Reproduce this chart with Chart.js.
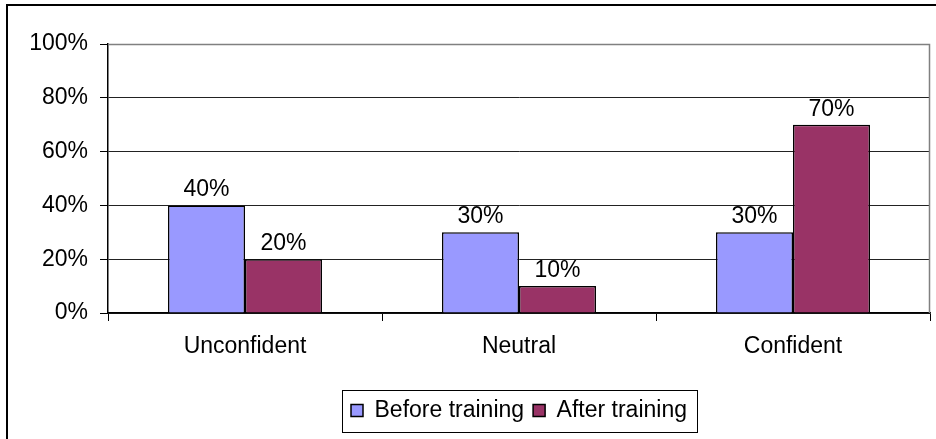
<!DOCTYPE html>
<html>
<head>
<meta charset="utf-8">
<script src="https://cdn.jsdelivr.net/npm/chart.js@4.4.1/dist/chart.umd.min.js"></script>
<style>
  html, body { margin: 0; padding: 0; background: #fff; }
  #wrap { position: relative; width: 936px; height: 439px; overflow: hidden; }
  #frame {
    position: absolute; left: 6px; top: 4px; width: 960px; height: 460px;
    border-left: 2px solid #000; border-top: 2px solid #000;
  }
  canvas { position: absolute; left: 0; top: 0; }
</style>
</head>
<body>
<div id="wrap">
  <div id="frame"></div>
  <canvas id="chart" width="936" height="439"></canvas>
</div>
<script>
// Chart data
const categories = ["Unconfident", "Neutral", "Confident"];
const beforeTraining = [40, 30, 30];
const afterTraining = [20, 10, 70];
const yTicks = [0, 20, 40, 60, 80, 100];

const FONT = { family: "'Liberation Sans', Arial, sans-serif", size: 23 };
const LEGEND_CENTER = 519; // legend sits a bit right of the canvas middle

// draws the percent labels on top of bars
const valueLabels = {
  id: "valueLabels",
  afterDatasetsDraw(chart) {
    const ctx = chart.ctx;
    ctx.save();
    ctx.font = FONT.size + "px " + FONT.family;
    ctx.fillStyle = "#000";
    ctx.textAlign = "center";
    ctx.textBaseline = "alphabetic";
    chart.data.datasets.forEach((ds, i) => {
      chart.getDatasetMeta(i).data.forEach((bar, j) => {
        ctx.fillText(ds.data[j] + "%", bar.x, bar.y - 9);
      });
    });
    ctx.restore();
  },
};

// gray plot area border + box around legend
const frames = {
  id: "frames",
  afterLayout(chart) {
    // move the legend sideways; hit boxes get rebuilt afterwards by the legend plugin
    const lg = chart.legend;
    const dx = Math.round(LEGEND_CENTER - (lg.left + lg.right) / 2);
    lg.left += dx;
    lg.right += dx;
  },
  beforeDatasetsDraw(chart) {
    const a = chart.chartArea;
    const ctx = chart.ctx;
    ctx.save();
    ctx.strokeStyle = "#808080";
    ctx.lineWidth = 1.5;
    ctx.beginPath();
    ctx.moveTo(a.left, a.top + 0.5);
    ctx.lineTo(a.right - 0.5, a.top + 0.5);
    ctx.lineTo(a.right - 0.5, a.bottom);
    ctx.stroke();
    ctx.restore();
  },
  afterDraw(chart) {
    const lg = chart.legend;
    const boxes = lg.legendHitBoxes;
    if (!boxes || !boxes.length) return;
    const first = boxes[0];
    const last = boxes[boxes.length - 1];
    const ctx = chart.ctx;
    ctx.save();
    ctx.strokeStyle = "#000";
    ctx.lineWidth = 1;
    const x1 = first.left - 9;
    const x2 = last.left + last.width + 10;
    ctx.strokeRect(Math.round(x1) + 0.5, lg.top + 0.5, Math.round(x2 - x1), lg.height);
    ctx.restore();
  },
};

new Chart(document.getElementById("chart"), {
  type: "bar",
  data: {
    labels: categories,
    datasets: [
      {
        label: "Before training",
        data: beforeTraining,
        backgroundColor: "#9999FF",
        borderColor: "#000",
        borderWidth: 1.5,
        categoryPercentage: 0.562,
        barPercentage: 1,
      },
      {
        label: "After training",
        data: afterTraining,
        backgroundColor: "#993366",
        borderColor: "#000",
        borderWidth: 1.5,
        categoryPercentage: 0.562,
        barPercentage: 1,
      },
    ],
  },
  options: {
    responsive: false,
    animation: false,
    layout: { padding: { top: 44, right: 6, bottom: 7, left: 0 } },
    plugins: {
      tooltip: { enabled: false },
      legend: {
        position: "bottom",
        labels: {
          font: FONT,
          color: "#000",
          boxWidth: 12,
          boxHeight: 12,
          padding: 9,
        },
      },
    },
    scales: {
      x: {
        grid: {
          offset: true,
          drawOnChartArea: false,
          tickLength: 8,
          tickColor: "#000",
        },
        border: { color: "#000", width: 1.5 },
        ticks: { font: FONT, color: "#000", padding: 12 },
        afterFit(scale) { scale.height = 77; },
      },
      y: {
        min: 0,
        max: 100,
        afterBuildTicks(scale) { scale.ticks = yTicks.map((v) => ({ value: v })); },
        grid: {
          color: (c) => (c.tick && c.tick.value === 100 ? "#808080" : "#222"),
          lineWidth: 1,
          tickLength: 8,
          tickColor: "#000",
        },
        border: { color: "#000", width: 1.5 },
        ticks: {
          font: FONT,
          color: "#000",
          padding: 12,
          callback: (v) => v + "%",
        },
        afterFit(scale) { scale.width = 108; },
      },
    },
  },
  plugins: [valueLabels, frames],
});
</script>
</body>
</html>
